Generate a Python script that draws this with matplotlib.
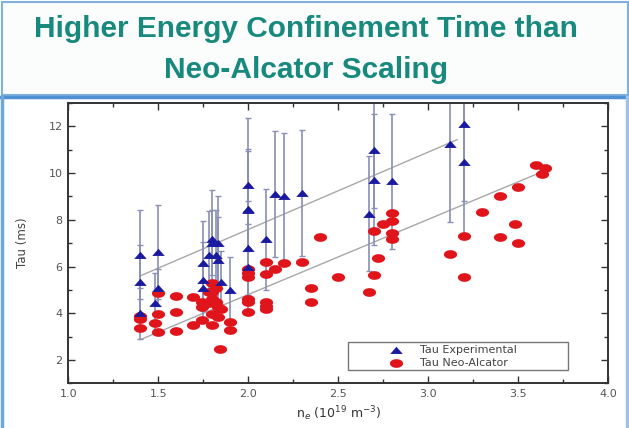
import numpy as np
import matplotlib
matplotlib.use("Agg")
import matplotlib.pyplot as plt
from matplotlib.path import Path
from matplotlib.patches import Rectangle
from matplotlib.lines import Line2D
from matplotlib.ticker import MultipleLocator

# datos
exp_x = [1.40, 1.40, 1.40, 1.48, 1.50, 1.50, 1.75, 1.75, 1.75, 1.78, 1.80, 1.80,
         1.82, 1.83, 1.83, 1.85, 1.90, 2.00, 2.00, 2.00, 2.00, 2.00, 2.10, 2.15,
         2.20, 2.30, 2.67, 2.70, 2.70, 2.80, 3.12, 3.20, 3.20]
exp_y = [4.00, 5.35, 6.50, 4.43, 5.10, 6.62, 5.10, 5.44, 6.14, 6.48, 7.02, 7.19,
         6.50, 6.30, 7.00, 5.35, 4.99, 6.00, 6.80, 8.44, 8.47, 9.50, 7.16, 9.10,
         9.00, 9.15, 8.26, 9.72, 11.00, 9.65, 11.26, 10.46, 12.10]
exp_err = [1.1, 1.55, 1.9, 1.3, 0.8, 2.0, 1.0, 1.6, 1.8, 1.9, 1.4, 2.1,
           1.9, 1.8, 2.0, 1.3, 1.4, 1.8, 2.0, 2.5, 2.55, 2.85, 2.15, 2.7,
           2.7, 2.7, 2.46, 2.8, 2.5, 2.9, 3.36, 3.1, 3.3]

neo_x = [1.40, 1.40, 1.40, 1.48, 1.50, 1.50, 1.50, 1.60, 1.60, 1.60, 1.69, 1.69,
         1.74, 1.74, 1.74, 1.78, 1.78, 1.80, 1.80, 1.80, 1.80, 1.80, 1.82, 1.82,
         1.83, 1.83, 1.84, 1.85, 1.90, 1.90, 2.00, 2.00, 2.00, 2.00, 2.00, 2.00,
         2.10, 2.10, 2.10, 2.10, 2.10, 2.15, 2.20, 2.30, 2.35, 2.35, 2.40, 2.50,
         2.67, 2.70, 2.70, 2.72, 2.75, 2.80, 2.80, 2.80, 2.80, 3.12, 3.20, 3.20,
         3.30, 3.40, 3.40, 3.48, 3.50, 3.50, 3.60, 3.63, 3.65]
neo_y = [3.89, 3.75, 3.35, 3.58, 4.85, 3.96, 3.20, 4.75, 4.06, 3.25, 4.69, 3.50,
         4.46, 4.25, 3.70, 4.92, 4.43, 5.31, 4.89, 4.63, 3.96, 3.50, 5.10, 4.46,
         4.25, 3.82, 2.47, 4.20, 3.64, 3.28, 5.88, 5.74, 5.53, 4.63, 4.49, 4.06,
         6.21, 5.67, 4.46, 4.32, 4.18, 5.91, 6.14, 6.21, 5.10, 4.49, 7.28, 5.56,
         4.92, 7.52, 5.64, 6.38, 7.80, 8.30, 7.95, 7.45, 7.19, 6.52, 7.31, 5.53,
         8.33, 9.01, 7.26, 7.83, 9.40, 6.99, 10.34, 9.98, 10.22]

# rectas de ajuste
fit_exp_x = [1.40, 3.16]
fit_exp_y = [5.60, 11.43]
fit_neo_x = [1.40, 3.64]
fit_neo_y = [2.87, 10.08]

x_ticks = [1.0, 1.5, 2.0, 2.5, 3.0, 3.5, 4.0]
y_ticks = [2, 4, 6, 8, 10, 12]
legend_labels = ["Tau Experimental", "Tau Neo-Alcator"]

# marcadores achatados como en la imagen original
t = np.linspace(0, 2 * np.pi, 41)
ellipse = Path(np.column_stack([np.cos(t), 0.66 * np.sin(t)]), closed=True)
tri = Path([(-1, -0.55), (1, -0.55), (0, 0.6), (-1, -0.55)], closed=True)

fig = plt.figure(figsize=(6.29, 4.28), dpi=100)

# marco del titulo estilo diapositiva
W, H = 629.0, 428.0
fig.patches.append(Rectangle((1.5 / W, 1 - 95 / H), 626 / W, 93.5 / H,
                             transform=fig.transFigure, facecolor="#fbfcfc",
                             edgecolor="#7fb0e0", linewidth=1.5, zorder=0))
fig.lines.append(Line2D([0, 1], [1 - 96.5 / H] * 2, transform=fig.transFigure,
                        color="#4f8fd3", linewidth=2.5))
fig.lines.append(Line2D([1.5 / W] * 2, [0, 1 - 96.5 / H], transform=fig.transFigure,
                        color="#6fa6dc", linewidth=2.5))
fig.lines.append(Line2D([627 / W] * 2, [0, 1 - 96.5 / H], transform=fig.transFigure,
                        color="#9cc3ea", linewidth=2.5))

fig.text(306 / W, 1 - 29 / H, "Higher Energy Confinement Time than", ha="center",
         va="center", fontsize=21.5, fontweight="bold", color="#17897d",
         family="Liberation Sans")
fig.text(306 / W, 1 - 70 / H, "Neo-Alcator Scaling", ha="center", va="center",
         fontsize=21.5, fontweight="bold", color="#17897d", family="Liberation Sans")

ax = fig.add_axes([68.3 / W, 1 - 383.3 / H, 540 / W, 280.3 / H])

ax.plot(fit_exp_x, fit_exp_y, color="#a8a8a8", linewidth=1.0, zorder=1)
ax.plot(fit_neo_x, fit_neo_y, color="#a8a8a8", linewidth=1.0, zorder=1)

ax.errorbar(exp_x, exp_y, yerr=exp_err, fmt="none", ecolor="#8a8fb5",
            elinewidth=1.2, capsize=2.5, capthick=1.0, zorder=2)
ax.plot(neo_x, neo_y, linestyle="none", marker=ellipse, markersize=9.5,
        color="#e0151c", markeredgewidth=0, zorder=3)
ax.plot(exp_x, exp_y, linestyle="none", marker=tri, markersize=9,
        color="#1a1aa0", markeredgewidth=0, zorder=4)

ax.set_xlim(1.0, 4.0)
ax.set_ylim(1.0, 13.0)
ax.set_xticks(x_ticks)
ax.set_xticklabels(["%.1f" % v for v in x_ticks])
ax.set_yticks(y_ticks)
ax.xaxis.set_minor_locator(MultipleLocator(0.25))
ax.yaxis.set_minor_locator(MultipleLocator(1))
ax.tick_params(which="both", direction="in", top=True, right=True,
               color="#333333", labelsize=8, labelcolor="#555555", width=1)
ax.tick_params(which="major", length=5, pad=4)
ax.tick_params(which="minor", length=3)
for s in ax.spines.values():
    s.set_color("#333333")
    s.set_linewidth(1.4)

ax.set_xlabel(r"n$_e$ (10$^{19}$ m$^{-3}$)", fontsize=9, color="#333333", labelpad=4)
ax.set_ylabel("Tau (ms)", fontsize=8.5, color="#444444", labelpad=14)

# leyenda dibujada a mano para copiar la posicion de los simbolos
ax.add_patch(Rectangle((0.518, 0.049), 0.407, 0.099, transform=ax.transAxes,
                       facecolor="white", edgecolor="#777777", linewidth=1.0,
                       zorder=5))
ax.plot([0.607], [0.118], transform=ax.transAxes, marker=tri, markersize=9,
        color="#1a1aa0", markeredgewidth=0, zorder=6, clip_on=False)
ax.plot([0.607], [0.074], transform=ax.transAxes, marker=ellipse, markersize=9.5,
        color="#e0151c", markeredgewidth=0, zorder=6, clip_on=False)
ax.text(0.651, 0.118, legend_labels[0], transform=ax.transAxes, va="center",
        fontsize=8, color="#444444", zorder=6)
ax.text(0.651, 0.074, legend_labels[1], transform=ax.transAxes, va="center",
        fontsize=8, color="#444444", zorder=6)

plt.savefig("out.png", dpi=100)
